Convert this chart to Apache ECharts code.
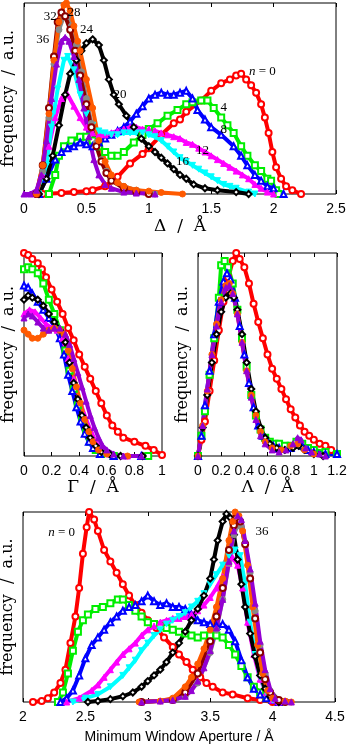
<!DOCTYPE html>
<html>
<head>
<meta charset="UTF-8">
<title></title>
<script src="https://cdn.jsdelivr.net/npm/echarts@6/dist/echarts.min.js"></script>
<style>
html, body { margin: 0; padding: 0; background: #fff; }
#chartArea { width: 349px; height: 747px; }
</style>
</head>
<body>
<div id="chartArea"></div>
<script type="text/javascript">
// ---- panel 1: Delta / A ----
var delta0 = [[0.15,0],[0.3,0.005],[0.4,0.01],[0.5,0.015],[0.55,0.02],[0.65,0.04],[0.75,0.09],[0.85,0.16],[0.95,0.21],[1.0,0.24],[1.1,0.31],[1.2,0.37],[1.25,0.39],[1.3,0.43],[1.42,0.49],[1.5,0.54],[1.58,0.58],[1.65,0.6],[1.7,0.62],[1.74,0.63],[1.78,0.6],[1.82,0.57],[1.86,0.53],[1.9,0.47],[1.93,0.4],[1.96,0.32],[1.99,0.22],[2.02,0.14],[2.06,0.08],[2.1,0.04],[2.15,0.02],[2.22,0]];
var delta4 = [[0.2,0],[0.25,0.1],[0.28,0.2],[0.32,0.25],[0.38,0.28],[0.45,0.3],[0.5,0.3],[0.55,0.28],[0.6,0.25],[0.65,0.22],[0.7,0.2],[0.75,0.2],[0.8,0.22],[0.88,0.27],[0.95,0.31],[1.0,0.34],[1.07,0.37],[1.15,0.41],[1.23,0.44],[1.3,0.47],[1.35,0.48],[1.42,0.49],[1.47,0.49],[1.52,0.45],[1.58,0.4],[1.63,0.36],[1.68,0.32],[1.74,0.25],[1.79,0.2],[1.85,0.15],[1.9,0.12],[1.95,0.08],[1.98,0.07],[2.02,0.02],[2.04,0]];
var delta8 = [[0.12,0],[0.18,0.08],[0.25,0.18],[0.3,0.22],[0.35,0.24],[0.4,0.25],[0.45,0.27],[0.5,0.26],[0.55,0.25],[0.6,0.27],[0.65,0.29],[0.7,0.31],[0.75,0.33],[0.8,0.35],[0.85,0.38],[0.9,0.42],[0.95,0.46],[1.0,0.5],[1.05,0.52],[1.1,0.53],[1.15,0.52],[1.2,0.52],[1.25,0.53],[1.3,0.54],[1.35,0.5],[1.39,0.44],[1.45,0.39],[1.5,0.35],[1.58,0.31],[1.68,0.25],[1.74,0.2],[1.79,0.15],[1.85,0.1],[1.9,0.07],[1.95,0.04],[2.0,0.03],[2.08,0]];
var delta12 = [[0.1,0],[0.15,0.1],[0.2,0.25],[0.25,0.4],[0.3,0.5],[0.35,0.52],[0.4,0.46],[0.45,0.4],[0.5,0.35],[0.55,0.32],[0.6,0.31],[0.65,0.31],[0.7,0.32],[0.75,0.33],[0.8,0.34],[0.85,0.35],[0.9,0.35],[0.95,0.34],[1.0,0.34],[1.05,0.33],[1.1,0.32],[1.15,0.31],[1.2,0.3],[1.25,0.29],[1.3,0.27],[1.35,0.26],[1.4,0.24],[1.45,0.22],[1.5,0.2],[1.55,0.18],[1.6,0.16],[1.65,0.14],[1.7,0.12],[1.75,0.1],[1.8,0.08],[1.85,0.05],[1.9,0.03],[1.95,0.01],[2.0,0]];
var delta16 = [[0.12,0],[0.18,0.15],[0.22,0.35],[0.27,0.55],[0.32,0.7],[0.35,0.72],[0.4,0.65],[0.45,0.52],[0.5,0.42],[0.55,0.36],[0.6,0.33],[0.65,0.32],[0.7,0.31],[0.75,0.31],[0.8,0.32],[0.85,0.32],[0.9,0.32],[0.95,0.32],[1.0,0.31],[1.05,0.3],[1.1,0.28],[1.15,0.25],[1.2,0.22],[1.25,0.19],[1.3,0.17],[1.35,0.15],[1.4,0.13],[1.45,0.11],[1.5,0.09],[1.55,0.07],[1.6,0.05],[1.65,0.04],[1.7,0.03],[1.8,0.01],[1.85,0]];
var delta20 = [[0.12,0],[0.18,0.08],[0.23,0.2],[0.28,0.36],[0.33,0.52],[0.37,0.63],[0.42,0.7],[0.46,0.75],[0.5,0.79],[0.55,0.81],[0.6,0.78],[0.64,0.7],[0.68,0.6],[0.72,0.52],[0.76,0.47],[0.82,0.41],[0.88,0.35],[0.94,0.29],[1.0,0.25],[1.05,0.22],[1.1,0.19],[1.15,0.16],[1.2,0.13],[1.25,0.1],[1.3,0.08],[1.36,0.05],[1.45,0.03],[1.55,0.02],[1.7,0.01],[1.8,0]];
var delta24 = [[0.1,0],[0.15,0.15],[0.2,0.42],[0.24,0.7],[0.28,0.9],[0.32,0.99],[0.34,1.0],[0.37,0.96],[0.4,0.88],[0.43,0.8],[0.45,0.75],[0.5,0.6],[0.55,0.45],[0.6,0.28],[0.65,0.17],[0.7,0.1],[0.75,0.06],[0.8,0.04],[0.9,0.02],[1.0,0.015],[1.1,0.008],[1.27,0]];
var delta28 = [[0.1,0],[0.15,0.12],[0.2,0.4],[0.24,0.68],[0.28,0.86],[0.32,0.93],[0.35,0.93],[0.38,0.88],[0.42,0.78],[0.46,0.64],[0.5,0.5],[0.54,0.37],[0.58,0.27],[0.62,0.18],[0.66,0.12],[0.7,0.08],[0.8,0.04],[0.9,0.02],[1.0,0.01],[1.05,0]];
var delta32 = [[0.1,0],[0.15,0.15],[0.2,0.45],[0.24,0.72],[0.27,0.9],[0.3,0.95],[0.33,0.93],[0.37,0.86],[0.41,0.75],[0.45,0.62],[0.5,0.47],[0.54,0.35],[0.58,0.25],[0.62,0.17],[0.66,0.11],[0.7,0.07],[0.8,0.03],[0.9,0.01],[1.0,0]];
var delta36 = [[0,0],[0.05,0],[0.1,0.02],[0.14,0.1],[0.18,0.28],[0.22,0.5],[0.26,0.68],[0.3,0.8],[0.33,0.82],[0.36,0.8],[0.4,0.72],[0.44,0.6],[0.48,0.45],[0.52,0.3],[0.56,0.18],[0.6,0.1],[0.65,0.05],[0.7,0.03],[0.8,0.01],[0.9,0.005],[1.05,0]];

// ---- panel 2: Gamma / A ----
var gamma0 = [[0,1.0],[0.03,0.99],[0.06,0.97],[0.1,0.95],[0.13,0.92],[0.16,0.88],[0.2,0.82],[0.24,0.76],[0.28,0.7],[0.32,0.63],[0.36,0.57],[0.4,0.5],[0.44,0.44],[0.48,0.38],[0.52,0.32],[0.56,0.26],[0.6,0.2],[0.64,0.15],[0.68,0.12],[0.72,0.09],[0.8,0.07],[0.88,0.05],[0.94,0.03],[1.0,0.005]];
var gamma4 = [[0,0.92],[0.03,0.93],[0.06,0.92],[0.1,0.9],[0.14,0.85],[0.18,0.77],[0.22,0.7],[0.26,0.62],[0.3,0.52],[0.33,0.42],[0.36,0.33],[0.39,0.25],[0.42,0.18],[0.45,0.12],[0.48,0.07],[0.52,0.03],[0.56,0.01],[0.65,0],[0.9,0]];
var gamma8 = [[0,0.84],[0.03,0.83],[0.06,0.8],[0.1,0.76],[0.14,0.72],[0.18,0.68],[0.22,0.64],[0.26,0.58],[0.29,0.5],[0.32,0.4],[0.35,0.32],[0.38,0.24],[0.41,0.17],[0.44,0.11],[0.47,0.07],[0.5,0.04],[0.55,0.01],[0.65,0],[0.85,0]];
var gamma12 = [[0,0.7],[0.04,0.72],[0.08,0.71],[0.12,0.68],[0.16,0.65],[0.2,0.63],[0.24,0.62],[0.28,0.58],[0.32,0.48],[0.36,0.38],[0.4,0.28],[0.44,0.2],[0.48,0.13],[0.52,0.07],[0.56,0.03],[0.62,0.01],[0.75,0]];
var gamma20 = [[0,0.77],[0.03,0.79],[0.06,0.78],[0.1,0.77],[0.14,0.74],[0.18,0.7],[0.22,0.66],[0.26,0.62],[0.3,0.56],[0.33,0.46],[0.36,0.36],[0.39,0.28],[0.42,0.2],[0.45,0.14],[0.48,0.09],[0.52,0.05],[0.56,0.02],[0.62,0.01],[0.7,0],[0.86,0]];
var gamma24 = [[0,0.62],[0.03,0.6],[0.06,0.58],[0.1,0.58],[0.14,0.6],[0.18,0.62],[0.22,0.63],[0.26,0.62],[0.29,0.6],[0.32,0.52],[0.35,0.43],[0.38,0.34],[0.41,0.26],[0.44,0.18],[0.47,0.12],[0.5,0.07],[0.54,0.03],[0.6,0.01],[0.75,0]];
var gamma36 = [[0,0.68],[0.03,0.7],[0.06,0.69],[0.1,0.66],[0.14,0.63],[0.18,0.62],[0.22,0.63],[0.26,0.63],[0.3,0.6],[0.33,0.55],[0.36,0.48],[0.39,0.41],[0.42,0.34],[0.45,0.27],[0.48,0.2],[0.51,0.14],[0.54,0.09],[0.57,0.05],[0.6,0.03],[0.65,0.01],[0.72,0],[0.85,0]];

// ---- panel 3: Lambda / A ----
var lambda0 = [[0,0],[0.03,0.08],[0.06,0.17],[0.1,0.32],[0.14,0.47],[0.18,0.62],[0.22,0.76],[0.26,0.88],[0.3,0.96],[0.33,1.0],[0.36,0.97],[0.4,0.93],[0.44,0.85],[0.48,0.75],[0.52,0.66],[0.56,0.58],[0.6,0.5],[0.64,0.43],[0.68,0.38],[0.72,0.33],[0.76,0.28],[0.8,0.23],[0.84,0.19],[0.88,0.15],[0.92,0.12],[0.96,0.1],[1.0,0.08],[1.05,0.06],[1.1,0.05],[1.15,0.03],[1.2,0.01]];
var lambda4 = [[0,0],[0.03,0.1],[0.06,0.22],[0.1,0.4],[0.14,0.58],[0.18,0.78],[0.2,0.94],[0.23,0.96],[0.26,0.93],[0.3,0.85],[0.34,0.72],[0.38,0.58],[0.42,0.44],[0.46,0.3],[0.5,0.2],[0.54,0.13],[0.58,0.09],[0.62,0.07],[0.66,0.06],[0.7,0.06],[0.75,0.05],[0.8,0.05],[0.85,0.07],[0.9,0.06],[0.95,0.04],[1.0,0.03],[1.1,0.02],[1.2,0.01]];
var lambda8 = [[0,0],[0.03,0.1],[0.06,0.25],[0.1,0.42],[0.14,0.6],[0.18,0.76],[0.22,0.86],[0.25,0.9],[0.28,0.87],[0.32,0.78],[0.36,0.64],[0.4,0.5],[0.44,0.36],[0.48,0.24],[0.52,0.15],[0.56,0.1],[0.6,0.07],[0.65,0.05],[0.7,0.04],[0.8,0.04],[0.86,0.06],[0.9,0.05],[0.95,0.03],[1.0,0.02],[1.1,0.01],[1.2,0.01]];
var lambda20 = [[0,0],[0.04,0.14],[0.08,0.3],[0.12,0.46],[0.16,0.6],[0.2,0.71],[0.24,0.78],[0.28,0.8],[0.31,0.78],[0.34,0.72],[0.38,0.6],[0.42,0.46],[0.46,0.33],[0.5,0.22],[0.54,0.14],[0.58,0.09],[0.62,0.06],[0.68,0.04],[0.75,0.03],[0.82,0.04],[0.87,0.05],[0.92,0.03],[1.0,0.01],[1.08,0]];
var lambda24 = [[0,0],[0.04,0.15],[0.08,0.32],[0.12,0.5],[0.16,0.65],[0.2,0.77],[0.24,0.84],[0.27,0.85],[0.3,0.8],[0.34,0.7],[0.38,0.56],[0.42,0.42],[0.46,0.3],[0.5,0.2],[0.54,0.12],[0.58,0.07],[0.64,0.04],[0.72,0.03],[0.8,0.05],[0.86,0.06],[0.92,0.03],[1.0,0.01]];
var lambda36 = [[0,0],[0.04,0.15],[0.08,0.33],[0.12,0.5],[0.16,0.64],[0.2,0.76],[0.24,0.83],[0.27,0.84],[0.3,0.8],[0.34,0.7],[0.38,0.56],[0.42,0.42],[0.46,0.29],[0.5,0.18],[0.54,0.1],[0.58,0.06],[0.64,0.03],[0.7,0.02],[0.76,0.03],[0.82,0.06],[0.86,0.09],[0.89,0.08],[0.93,0.04],[0.98,0.02],[1.05,0.01],[1.1,0]];

// ---- panel 4: minimum window aperture / A ----
var aper0 = [[2.08,0],[2.15,0.005],[2.2,0.02],[2.25,0.05],[2.3,0.1],[2.34,0.17],[2.38,0.31],[2.42,0.45],[2.45,0.6],[2.48,0.78],[2.51,0.92],[2.53,1.0],[2.57,0.96],[2.6,0.9],[2.65,0.8],[2.7,0.74],[2.75,0.68],[2.8,0.62],[2.85,0.56],[2.9,0.51],[2.95,0.47],[3.0,0.43],[3.07,0.39],[3.13,0.34],[3.2,0.29],[3.25,0.25],[3.31,0.21],[3.36,0.17],[3.42,0.13],[3.47,0.1],[3.52,0.08],[3.6,0.05],[3.68,0.04],[3.8,0.02],[3.9,0.01],[4.0,0]];
var aper4 = [[2.28,0],[2.32,0.05],[2.36,0.15],[2.4,0.27],[2.44,0.37],[2.48,0.43],[2.52,0.46],[2.58,0.49],[2.64,0.5],[2.7,0.52],[2.76,0.54],[2.8,0.54],[2.85,0.51],[2.9,0.48],[2.95,0.45],[3.0,0.42],[3.05,0.41],[3.1,0.4],[3.15,0.39],[3.2,0.38],[3.25,0.37],[3.3,0.36],[3.35,0.35],[3.4,0.34],[3.45,0.35],[3.5,0.35],[3.55,0.35],[3.6,0.34],[3.65,0.3],[3.7,0.25],[3.75,0.19],[3.8,0.13],[3.85,0.08],[3.9,0.05],[3.95,0.02],[4.0,0.01],[4.05,0]];
var aper8 = [[2.3,0],[2.35,0.02],[2.4,0.06],[2.45,0.14],[2.5,0.23],[2.55,0.3],[2.6,0.34],[2.65,0.38],[2.7,0.42],[2.75,0.45],[2.8,0.48],[2.85,0.5],[2.9,0.51],[2.95,0.53],[3.0,0.56],[3.05,0.53],[3.1,0.51],[3.15,0.52],[3.2,0.5],[3.25,0.5],[3.3,0.49],[3.35,0.46],[3.4,0.43],[3.45,0.42],[3.5,0.41],[3.55,0.4],[3.6,0.41],[3.65,0.38],[3.7,0.32],[3.75,0.22],[3.8,0.13],[3.85,0.07],[3.9,0.04],[3.95,0.02],[4.0,0.01],[4.05,0]];
var aper12 = [[2.35,0],[2.45,0.02],[2.55,0.06],[2.6,0.09],[2.65,0.13],[2.7,0.17],[2.75,0.21],[2.8,0.25],[2.85,0.28],[2.9,0.31],[2.95,0.35],[3.0,0.38],[3.05,0.4],[3.1,0.42],[3.15,0.43],[3.2,0.44],[3.25,0.44],[3.3,0.45],[3.35,0.46],[3.4,0.48],[3.45,0.51],[3.5,0.55],[3.55,0.6],[3.6,0.66],[3.65,0.73],[3.68,0.76],[3.72,0.72],[3.76,0.6],[3.8,0.42],[3.85,0.25],[3.9,0.12],[3.95,0.05],[4.0,0.01],[4.05,0]];
var aper16 = [[2.4,0],[2.5,0.02],[2.6,0.04],[2.7,0.08],[2.8,0.14],[2.85,0.18],[2.9,0.22],[2.95,0.27],[3.0,0.31],[3.05,0.35],[3.1,0.38],[3.15,0.41],[3.2,0.43],[3.25,0.45],[3.3,0.47],[3.35,0.5],[3.4,0.53],[3.45,0.57],[3.5,0.62],[3.55,0.67],[3.6,0.72],[3.65,0.77],[3.7,0.8],[3.74,0.77],[3.78,0.62],[3.82,0.42],[3.86,0.25],[3.9,0.13],[3.95,0.05],[4.0,0.01],[4.05,0]];
var aper20 = [[2.52,0],[2.6,0.005],[2.7,0.015],[2.8,0.03],[2.88,0.05],[2.95,0.08],[3.0,0.11],[3.05,0.14],[3.1,0.17],[3.15,0.21],[3.2,0.26],[3.25,0.31],[3.3,0.37],[3.35,0.43],[3.4,0.49],[3.45,0.56],[3.5,0.65],[3.53,0.75],[3.56,0.85],[3.6,0.95],[3.63,0.99],[3.66,0.97],[3.69,0.88],[3.72,0.75],[3.75,0.62],[3.78,0.5],[3.82,0.36],[3.86,0.24],[3.9,0.14],[3.94,0.07],[3.98,0.03],[4.05,0]];
var aper24 = [[2.93,0],[3.1,0.005],[3.2,0.02],[3.3,0.08],[3.35,0.13],[3.4,0.2],[3.45,0.28],[3.5,0.38],[3.55,0.5],[3.6,0.65],[3.65,0.85],[3.68,0.95],[3.7,1.0],[3.73,0.98],[3.76,0.9],[3.8,0.72],[3.84,0.5],[3.88,0.3],[3.92,0.15],[3.96,0.06],[4.0,0.02],[4.1,0.005],[4.15,0]];
var aper28 = [[2.95,0],[3.2,0.01],[3.3,0.03],[3.4,0.1],[3.5,0.26],[3.55,0.38],[3.6,0.54],[3.65,0.73],[3.69,0.88],[3.72,0.93],[3.75,0.92],[3.78,0.84],[3.82,0.68],[3.86,0.48],[3.9,0.3],[3.94,0.15],[3.98,0.06],[4.05,0.01],[4.1,0]];
var aper32 = [[2.95,0],[3.2,0.01],[3.3,0.05],[3.4,0.15],[3.5,0.32],[3.55,0.45],[3.6,0.6],[3.65,0.8],[3.69,0.93],[3.71,0.97],[3.74,0.95],[3.78,0.83],[3.82,0.65],[3.86,0.44],[3.9,0.26],[3.94,0.12],[3.98,0.05],[4.05,0.01],[4.1,0]];
var aper36 = [[2.95,0],[3.1,0.005],[3.2,0.01],[3.3,0.03],[3.35,0.06],[3.4,0.11],[3.45,0.18],[3.5,0.27],[3.55,0.39],[3.6,0.54],[3.65,0.74],[3.69,0.9],[3.72,0.98],[3.75,0.96],[3.78,0.85],[3.82,0.7],[3.86,0.52],[3.9,0.32],[3.94,0.17],[3.98,0.07],[4.02,0.02],[4.1,0.005],[4.15,0]];

// curve labels (text, x, y in data units)
var labels1 = [['{i|n} = 0',1.91,0.64],['4',1.6,0.455],['8',1.6,0.335],['12',1.43,0.225],['16',1.27,0.17],['20',0.77,0.52],['24',0.5,0.86],['28',0.4,0.95],['32',0.21,0.93],['36',0.15,0.81]];
var labels4 = [['{i|n} = 0',2.31,0.89],['36',3.915,0.895]];

// marker style per n
var styles = {
	n0:  {color: '#ff0000', symbol: 'emptyCircle'},
	n4:  {color: '#00ee00', symbol: 'emptyRect'},
	n8:  {color: '#0000ff', symbol: 'emptyTriangle'},
	n12: {color: '#ff00ff', symbol: 'triangle'},
	n16: {color: '#00ffff', symbol: 'triangle', rotate: 180},
	n20: {color: '#000000', symbol: 'emptyDiamond'},
	n28: {color: '#888888', symbol: 'circle'},
	n32: {color: '#8b0000', symbol: 'emptyCircle'},
	n24: {color: '#ff5a00', symbol: 'circle'},
	n36: {color: '#9400d3', symbol: 'triangle'}
};

var panels = [
	{n0: delta0, n4: delta4, n8: delta8, n12: delta12, n16: delta16, n20: delta20, n28: delta28, n32: delta32, n24: delta24, n36: delta36},
	{n0: gamma0, n4: gamma4, n8: gamma8, n12: gamma12, n20: gamma20, n24: gamma24, n36: gamma36},
	{n0: lambda0, n4: lambda4, n8: lambda8, n20: lambda20, n24: lambda24, n36: lambda36},
	{n0: aper0, n4: aper4, n8: aper8, n12: aper12, n16: aper16, n20: aper20, n28: aper28, n32: aper32, n24: aper24, n36: aper36}
];

var grids = [
	{left: 24, top: 3, width: 312, height: 191},
	{left: 24, top: 253, width: 138, height: 203},
	{left: 198, top: 253, width: 139, height: 203},
	{left: 23, top: 512, width: 312, height: 190}
];
var xRange = [[0, 2.5, 0.5], [0, 1, 0.2], [0, 1.2, 0.2], [2, 4.5, 0.5]];
var xNames = ['\u0394  /  \u00c5', '\u0393  /  \u00c5', '\u039b  /  \u00c5', 'Minimum Window Aperture / \u00c5'];
var xNameGap = [24, 20, 20, 28];
var serif = '"DejaVu Serif", serif';
var sans = '"Liberation Sans", Arial, sans-serif';

var myChart = echarts.init(document.getElementById('chartArea'));

var xAxes = [], yAxes = [], series = [];
for (var i = 0; i < 4; i++) {
	var g = grids[i];
	g.show = true;
	g.borderColor = '#000';
	g.borderWidth = 1;
	g.containLabel = false;
	g.outerBoundsMode = 'none';
	// bottom axis
	xAxes.push({
		type: 'value', gridIndex: i, min: xRange[i][0], max: xRange[i][1], interval: xRange[i][2],
		axisLine: {show: false},
		axisTick: {show: true, inside: true, length: 4, lineStyle: {color: '#000'}},
		splitLine: {show: false},
		axisLabel: {color: '#000', fontSize: 14, fontFamily: sans, margin: 8, showMinLabel: true, showMaxLabel: true, hideOverlap: false},
		name: xNames[i], nameLocation: 'middle', nameGap: xNameGap[i],
		nameTextStyle: {color: '#000', fontSize: i == 3 ? 14 : 17, fontFamily: i == 3 ? sans : serif}
	});
	yAxes.push({
		type: 'value', gridIndex: i, min: 0, max: 1,
		axisLine: {show: false}, axisTick: {show: false}, axisLabel: {show: false}, splitLine: {show: false},
		name: 'frequency  /  a.u.', nameLocation: 'middle', nameGap: 7, nameRotate: 90,
		nameTextStyle: {color: '#000', fontSize: 16, fontFamily: serif}
	});
}
// mirrored ticks on top edge
for (var i = 0; i < 4; i++) {
	xAxes.push({
		type: 'value', gridIndex: i, position: 'top', min: xRange[i][0], max: xRange[i][1], interval: xRange[i][2],
		axisLine: {show: false}, axisLabel: {show: false}, splitLine: {show: false},
		axisTick: {show: true, inside: true, length: 4, lineStyle: {color: '#000'}}
	});
}

for (var i = 0; i < 4; i++) {
	for (var key in panels[i]) {
		var st = styles[key];
		series.push({
			type: 'line', xAxisIndex: i, yAxisIndex: i,
			data: panels[i][key],
			symbol: st.symbol, symbolSize: 6, symbolRotate: st.rotate || 0,
			showAllSymbol: true, smooth: false, silent: true, animation: false,
			lineStyle: {color: st.color, width: 4},
			itemStyle: {color: st.color, borderColor: st.color, borderWidth: 1}
		});
	}
}

var option = {
	backgroundColor: '#fff',
	animation: false,
	grid: grids,
	xAxis: xAxes,
	yAxis: yAxes,
	series: series
};
myChart.setOption(option);

// curve labels placed in data coordinates
var graphics = [];
function addLabels(list, gi) {
	for (var k = 0; k < list.length; k++) {
		var p = myChart.convertToPixel({gridIndex: gi}, [list[k][1], list[k][2]]);
		graphics.push({
			type: 'text', x: p[0], y: p[1], z: 100,
			style: {
				text: list[k][0], fill: '#000', font: '13px "Liberation Serif", serif',
				align: 'center', verticalAlign: 'middle',
				rich: {i: {fontStyle: 'italic', fontSize: 13, fontFamily: '"Liberation Serif", serif'}}
			}
		});
	}
}
addLabels(labels1, 0);
addLabels(labels4, 3);
myChart.setOption({graphic: graphics});
</script>
</body>
</html>
